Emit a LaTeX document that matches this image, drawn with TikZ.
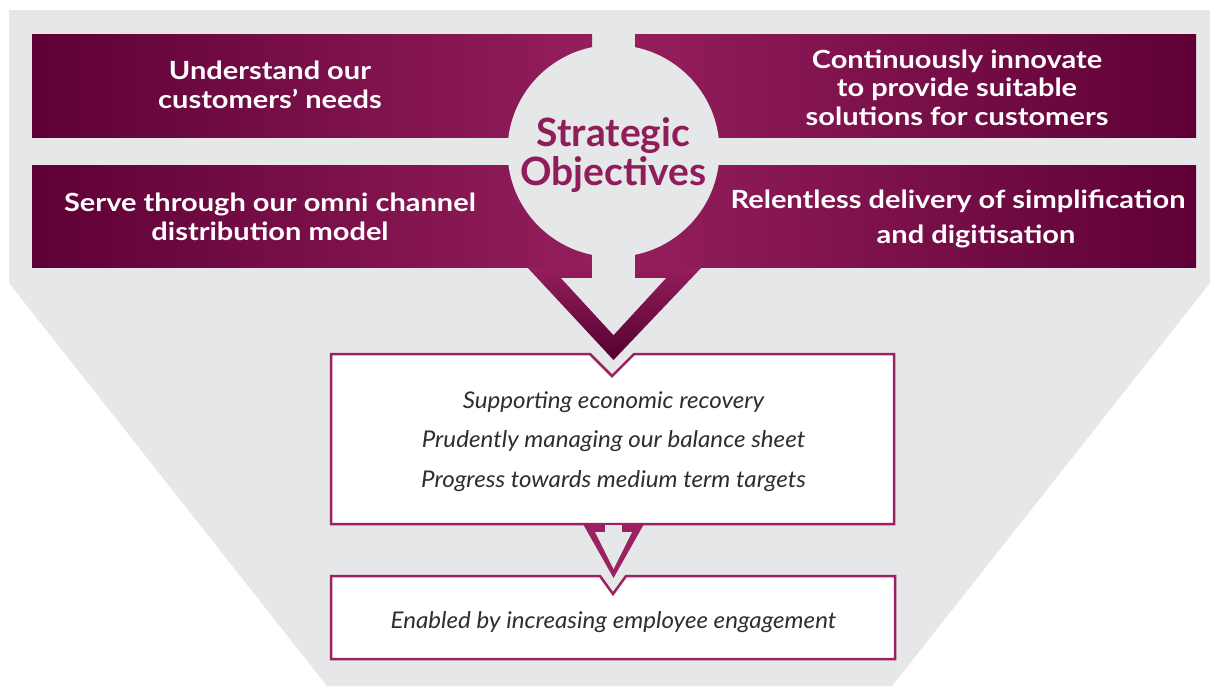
\documentclass[tikz,border=0pt]{standalone}
\usepackage{fontspec}
\setmainfont{Lato}
\newfontfamily\widesans{Lato}[FakeStretch=1.16]
\newfontfamily\wideital{Lato}[FakeStretch=1.05]
\definecolor{bggrey}{HTML}{E6E7E8}
\definecolor{pdark}{HTML}{5E0036}
\definecolor{plight}{HTML}{941E5C}
\definecolor{ptip}{HTML}{55002F}
\definecolor{pline}{HTML}{9B2262}
\definecolor{ptext}{HTML}{8F1D5A}
\definecolor{itext}{HTML}{2E2E2E}
\tikzset{
  objtext/.style={text=white, font=\widesans\bfseries\fontsize{25}{28.5}\selectfont, align=center, anchor=base, inner sep=0pt},
  goaltext/.style={text=itext, font=\wideital\itshape\fontsize{23}{39.5}\selectfont, align=center, anchor=base, inner sep=0pt},
  goalbox/.style={fill=white, draw=pline, line width=2.5pt, line join=miter},
  leftbox/.style={left color=pdark, right color=plight},
  rightbox/.style={left color=plight, right color=pdark},
}
\begin{document}
\begin{tikzpicture}[x=1pt,y=-1pt]
\useasboundingbox (0,0) rectangle (1217,686);
% funnel background
\fill[bggrey] (9,10) -- (1210,10) -- (1210,283) -- (892,686) -- (327,686) -- (9,283) -- cycle;
% the four objective panels
\shade[leftbox]  (32,34)  rectangle (592,137);
\shade[rightbox] (635,34) rectangle (1196,137);
\shade[leftbox]  (32,165) rectangle (592,267);
\shade[rightbox] (635,165) rectangle (1196,267);
% big downward chevron
\shade[top color=plight, bottom color=ptip] (527,267) -- (702,267) -- (613.5,360) -- cycle;
\fill[bggrey] (561,278) -- (666,278) -- (613.5,335) -- cycle;
\fill[bggrey] (592,250) rectangle (635,278.5);
% central disc
\fill[bggrey] (613.5,151) circle[radius=106];
\node[text=ptext, font=\bfseries\fontsize{39}{39}\selectfont, align=center, anchor=base, inner sep=0pt] (title) at (613.5,185) {Strategic\\Objectives};
% objective texts (anchored at the baseline of their last line)
\node[objtext] (tl) at (270,108) {Understand our\\customers’ needs};
\node[objtext] (tr) at (957,125) {Continuously innovate\\to provide suitable\\solutions for customers};
\node[objtext] (bl) at (270,240) {Serve through our omni channel\\distribution model};
\node[objtext, font=\widesans\bfseries\fontsize{25}{35}\selectfont] (br) at (958,243) {Relentless delivery of simplification\\\hspace*{36pt}and digitisation};
% outcome boxes
\draw[goalbox] (331,354) -- (590,354) -- (612,376) -- (634,354) -- (894,354) -- (894,524) -- (331,524) -- cycle;
\draw[goalbox] (331,576) -- (600,576) -- (613,594) -- (626,576) -- (895,576) -- (895,659) -- (331,659) -- cycle;
% small chevron between the boxes
\fill[pline] (583,524) -- (644,524) -- (613.5,578) -- cycle;
\fill[bggrey] (595,532) -- (632,532) -- (613.5,569) -- cycle;
\fill[bggrey] (605,525.3) rectangle (622,532.5);
\node[goaltext] (g1) at (613.5,487) {Supporting economic recovery\\Prudently managing our balance sheet\\Progress towards medium term targets};
\node[goaltext] (g2) at (613.5,628) {Enabled by increasing employee engagement};
\end{tikzpicture}
\end{document}
